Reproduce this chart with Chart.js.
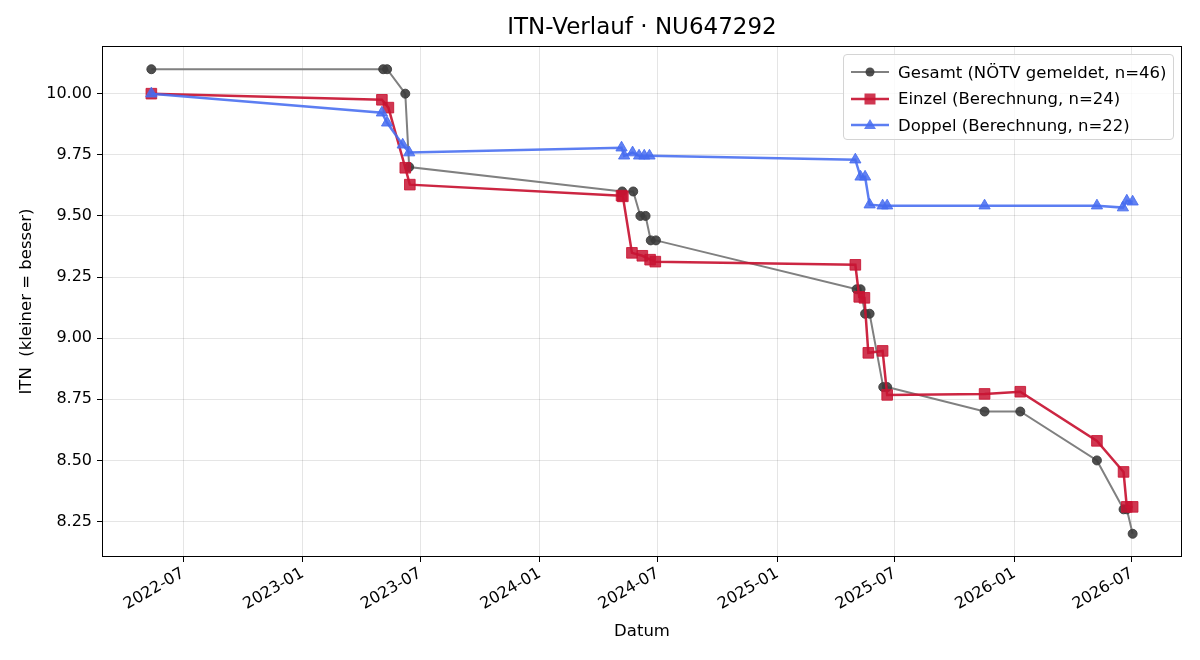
<!DOCTYPE html>
<html lang="de">
<head>
<meta charset="utf-8">
<title>ITN-Verlauf</title>
<script src="https://cdn.jsdelivr.net/npm/chart.js@4/dist/chart.umd.min.js"></script>
<style>
  html, body { margin: 0; padding: 0; background: #fff; }
  #wrap { position: relative; width: 1200px; height: 660px; }
  #legend {
    position: absolute; left: 843px; top: 54px; width: 331px; height: 86px;
    box-sizing: border-box; border: 1px solid #d4d4d4; border-radius: 4px;
    background: rgba(255, 255, 255, 0.8);
    font-family: 'DejaVu Sans', sans-serif; font-size: 16.5px; color: #000;
  }
  .row { position: absolute; left: 6px; height: 26px; display: flex; align-items: center; white-space: nowrap; }
  .row svg { margin-right: 8px; }
</style>
</head>
<body>
<div id="wrap">
  <canvas id="chart" width="1200" height="660"></canvas>
  <div id="legend"></div>
</div>
<script>
// --- data ---
const chartTitle = 'ITN-Verlauf · NU647292'

const gesamtLabel = 'Gesamt (NÖTV gemeldet, n=46)'
const gesamtDates = [
  '2022-05-13', '2023-05-05', '2023-05-11', '2023-06-08', '2023-06-14',
  '2024-05-07', '2024-05-24', '2024-06-04', '2024-06-12', '2024-06-20', '2024-06-28',
  '2025-05-03', '2025-05-09', '2025-05-16', '2025-05-23', '2025-06-13', '2025-06-19',
  '2025-11-16', '2026-01-10', '2026-05-08', '2026-06-18', '2026-06-23', '2026-07-02'
]
const gesamtValues = [
  10.10, 10.10, 10.10, 10.00, 9.70,
  9.60, 9.60, 9.50, 9.50, 9.40, 9.40,
  9.20, 9.20, 9.10, 9.10, 8.80, 8.80,
  8.70, 8.70, 8.50, 8.30, 8.30, 8.20
]

const einzelLabel = 'Einzel (Berechnung, n=24)'
const einzelDates = [
  '2022-05-13', '2023-05-03', '2023-05-13', '2023-06-08', '2023-06-15',
  '2024-05-06', '2024-05-08', '2024-05-22', '2024-06-07', '2024-06-19', '2024-06-27',
  '2025-05-01', '2025-05-07', '2025-05-15', '2025-05-21', '2025-06-12', '2025-06-19',
  '2025-11-16', '2026-01-10', '2026-05-08', '2026-06-18', '2026-06-23', '2026-07-02'
]
const einzelValues = [
  10.00, 9.975, 9.943, 9.697, 9.628,
  9.583, 9.580, 9.349, 9.337, 9.321, 9.313,
  9.300, 9.169, 9.165, 8.940, 8.948, 8.768,
  8.772, 8.781, 8.580, 8.453, 8.310, 8.310
]

const doppelLabel = 'Doppel (Berechnung, n=22)'
const doppelDates = [
  '2022-05-13', '2023-05-03', '2023-05-11', '2023-06-04', '2023-06-14',
  '2024-05-06', '2024-05-10', '2024-05-23', '2024-06-02', '2024-06-10', '2024-06-18',
  '2025-05-01', '2025-05-09', '2025-05-16', '2025-05-23', '2025-06-12', '2025-06-19',
  '2025-11-16', '2026-05-08', '2026-06-17', '2026-06-23', '2026-07-02'
]
const doppelValues = [
  10.00, 9.922, 9.881, 9.791, 9.759,
  9.779, 9.746, 9.759, 9.746, 9.746, 9.746,
  9.730, 9.660, 9.660, 9.546, 9.542, 9.542,
  9.542, 9.542, 9.534, 9.562, 9.558
]

const xTickDates = ['2022-07-01', '2023-01-01', '2023-07-01', '2024-01-01', '2024-07-01',
  '2025-01-01', '2025-07-01', '2026-01-01', '2026-07-01']
const xTickLabels = ['2022-07', '2023-01', '2023-07', '2024-01', '2024-07',
  '2025-01', '2025-07', '2026-01', '2026-07']
const yTickValues = [8.25, 8.50, 8.75, 9.00, 9.25, 9.50, 9.75, 10.00]

const xRange = ['2022-02-26', '2026-09-16']
const yRange = [8.105, 10.195]

// --- helpers ---
const toTime = d => Date.parse(d + 'T00:00:00Z')
const toPoints = (dates, values) => dates.map((d, i) => ({ x: toTime(d), y: values[i] }))

const FONT = "'DejaVu Sans', sans-serif"
const tickFont = { family: FONT, size: 16 }
const labelFont = { family: FONT, size: 16.5 }

const series = [
  { label: gesamtLabel, data: toPoints(gesamtDates, gesamtValues), line: '#808080', mark: 'rgba(60,60,60,0.9)', style: 'circle', radius: 4.5, width: 2, order: 3 },
  { label: einzelLabel, data: toPoints(einzelDates, einzelValues), line: 'rgba(200,20,50,0.92)', mark: 'rgba(200,20,50,0.85)', style: 'rect', radius: 7.5, width: 2.5, order: 2 },
  { label: doppelLabel, data: toPoints(doppelDates, doppelValues), line: 'rgba(70,108,240,0.88)', mark: 'rgba(70,108,240,0.85)', style: 'triangle', radius: 6.5, width: 2.5, order: 1 }
]

// black frame round the plot area, like matplotlib spines
const framePlugin = {
  id: 'frame',
  afterDraw (chart) {
    const { ctx, chartArea: a } = chart
    ctx.save()
    ctx.strokeStyle = '#000'
    ctx.lineWidth = 1
    ctx.strokeRect(a.left + 0.5, a.top + 0.5, a.right - a.left - 1, a.bottom - a.top - 1)
    ctx.restore()
  }
}

new Chart(document.getElementById('chart').getContext('2d'), {
  type: 'line',
  data: {
    datasets: series.map(s => ({
      label: s.label,
      data: s.data,
      borderColor: s.line,
      borderWidth: s.width,
      backgroundColor: s.mark,
      pointBackgroundColor: s.mark,
      pointBorderColor: s.mark,
      pointBorderWidth: 1,
      pointStyle: s.style,
      pointRadius: s.radius,
      tension: 0,
      fill: false,
      order: s.order
    }))
  },
  options: {
    responsive: false,
    animation: false,
    events: [],
    layout: { padding: { left: 0, right: 18, top: 0, bottom: 0 } },
    plugins: {
      legend: { display: false },
      tooltip: { enabled: false },
      title: {
        display: true,
        text: chartTitle,
        fullSize: false,
        color: '#000',
        font: { family: FONT, size: 23, weight: 'normal', lineHeight: 1.2 },
        padding: { top: 14, bottom: 4.4 }
      }
    },
    scales: {
      x: {
        type: 'linear',
        min: toTime(xRange[0]),
        max: toTime(xRange[1]),
        afterBuildTicks (scale) {
          scale.ticks = xTickDates.map(d => ({ value: toTime(d) }))
        },
        afterFit (scale) { scale.height = 103 },
        ticks: {
          callback: (v, i) => xTickLabels[i],
          autoSkip: false,
          minRotation: 30,
          maxRotation: 30,
          color: '#000',
          font: tickFont,
          padding: 2
        },
        grid: { color: 'rgba(0,0,0,0.1)', tickColor: '#000', tickLength: 5 },
        border: { display: false },
        title: { display: true, text: 'Datum', color: '#000', font: labelFont, padding: { top: 4, bottom: 18 } }
      },
      y: {
        min: yRange[0],
        max: yRange[1],
        afterBuildTicks (scale) {
          scale.ticks = yTickValues.map(v => ({ value: v }))
        },
        afterFit (scale) { scale.width = 102 },
        ticks: {
          callback: v => Number(v).toFixed(2),
          color: '#000',
          font: tickFont,
          padding: 5
        },
        grid: { color: 'rgba(0,0,0,0.1)', tickColor: '#000', tickLength: 5 },
        border: { display: false },
        title: { display: true, text: 'ITN  (kleiner = besser)', color: '#000', font: labelFont, padding: { top: 17, bottom: 4 } }
      }
    }
  },
  plugins: [framePlugin]
})

// legend drawn in HTML over the plot, upper right
function markerSvg (s) {
  let shape = ''
  if (s.style === 'circle') shape = `<circle cx="20" cy="10" r="4.5" fill="${s.mark}"/>`
  if (s.style === 'rect') shape = `<rect x="14.5" y="4.5" width="11" height="11" fill="${s.mark}"/>`
  if (s.style === 'triangle') shape = `<polygon points="20,4 26,14 14,14" fill="${s.mark}"/>`
  return `<svg width="40" height="20"><line x1="1" y1="10" x2="39" y2="10" stroke="${s.line}" stroke-width="${s.width}"/>${shape}</svg>`
}
const legend = document.getElementById('legend')
series.forEach((s, i) => {
  const row = document.createElement('div')
  row.className = 'row'
  row.style.top = (4 + i * 26.5) + 'px'
  row.innerHTML = markerSvg(s) + '<span>' + s.label + '</span>'
  legend.appendChild(row)
})
</script>
</body>
</html>
